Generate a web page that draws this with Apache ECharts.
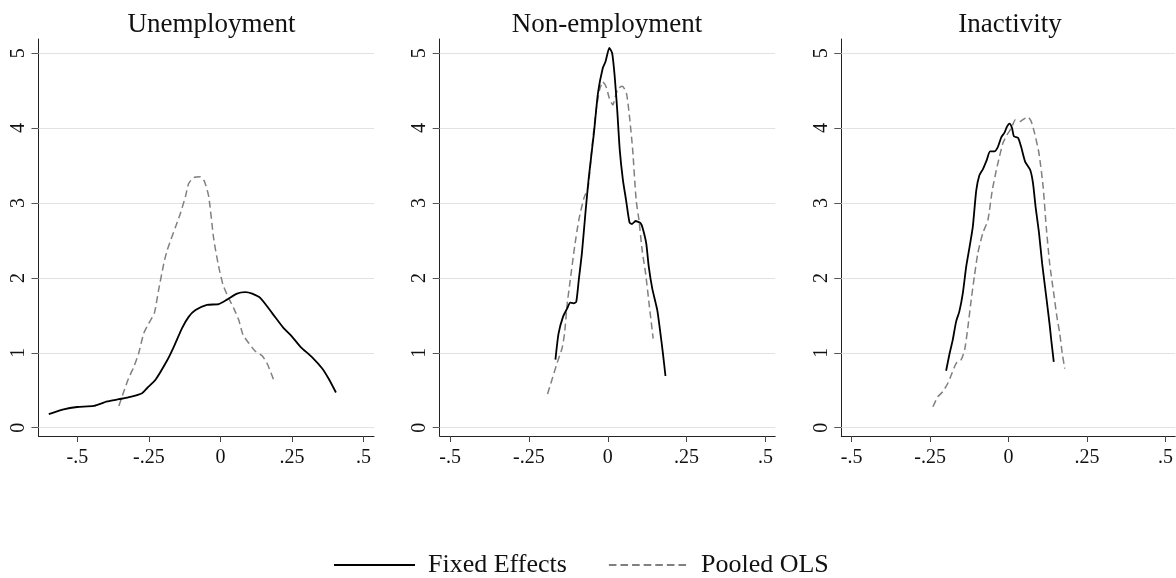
<!DOCTYPE html>
<html>
<head>
<meta charset="utf-8">
<script src="https://cdn.jsdelivr.net/npm/echarts@6/dist/echarts.min.js"></script>
<style>
html,body{margin:0;padding:0;background:#fff;}
#chart{width:1176px;height:578px;}
</style>
</head>
<body>
<div id="chart"></div>
<script>
// ---- Data ----
const panelTitles = ['Unemployment', 'Non-employment', 'Inactivity'];
const seriesNames = ['Fixed Effects', 'Pooled OLS'];
const xTicks = [-0.5, -0.25, 0, 0.25, 0.5];
const yTicks = [0, 1, 2, 3, 4, 5];

const unempFE = [[-0.600,0.18],[-0.548,0.245],[-0.501,0.276],[-0.443,0.29],[-0.396,0.35],[-0.355,0.38],[-0.315,0.41],[-0.274,0.46],[-0.256,0.53],[-0.227,0.64],[-0.186,0.90],[-0.163,1.08],[-0.134,1.33],[-0.111,1.48],[-0.087,1.57],[-0.047,1.64],[-0.006,1.65],[0.023,1.71],[0.058,1.79],[0.087,1.81],[0.111,1.79],[0.140,1.73],[0.181,1.53],[0.221,1.33],[0.245,1.24],[0.280,1.08],[0.321,0.94],[0.356,0.79],[0.379,0.65],[0.404,0.47]];
const unempOLS = [[-0.355,0.29],[-0.338,0.48],[-0.321,0.66],[-0.303,0.81],[-0.286,0.99],[-0.268,1.26],[-0.251,1.39],[-0.231,1.53],[-0.216,1.84],[-0.198,2.19],[-0.186,2.37],[-0.157,2.68],[-0.140,2.86],[-0.122,3.09],[-0.111,3.26],[-0.093,3.34],[-0.070,3.35],[-0.056,3.29],[-0.041,3.09],[-0.023,2.51],[-0.006,2.15],[0.009,1.91],[0.029,1.73],[0.047,1.59],[0.064,1.44],[0.079,1.24],[0.099,1.13],[0.122,1.02],[0.146,0.96],[0.163,0.86],[0.177,0.73],[0.189,0.61]];
const nonempFE = [[-0.166,0.91],[-0.156,1.26],[-0.142,1.48],[-0.129,1.59],[-0.119,1.67],[-0.108,1.66],[-0.100,1.68],[-0.092,1.97],[-0.082,2.33],[-0.071,2.86],[-0.060,3.35],[-0.044,3.93],[-0.031,4.47],[-0.016,4.80],[-0.007,4.89],[0.005,5.07],[0.014,5.00],[0.022,4.69],[0.030,4.24],[0.038,3.71],[0.048,3.31],[0.058,3.04],[0.069,2.74],[0.077,2.72],[0.088,2.76],[0.104,2.73],[0.111,2.66],[0.122,2.46],[0.130,2.15],[0.141,1.86],[0.157,1.57],[0.167,1.26],[0.175,0.99],[0.183,0.69]];
const nonempOLS = [[-0.191,0.45],[-0.177,0.64],[-0.161,0.86],[-0.145,1.06],[-0.137,1.26],[-0.129,1.64],[-0.119,1.97],[-0.105,2.42],[-0.092,2.77],[-0.076,3.06],[-0.062,3.22],[-0.050,3.75],[-0.037,4.24],[-0.026,4.51],[-0.016,4.62],[-0.005,4.55],[0.005,4.40],[0.016,4.31],[0.024,4.42],[0.033,4.53],[0.046,4.56],[0.059,4.47],[0.069,4.15],[0.079,3.71],[0.090,3.04],[0.099,2.77],[0.109,2.37],[0.120,2.06],[0.132,1.62],[0.144,1.19]];
const inactFE = [[-0.199,0.76],[-0.188,0.99],[-0.178,1.17],[-0.167,1.42],[-0.157,1.55],[-0.146,1.79],[-0.135,2.15],[-0.124,2.42],[-0.114,2.68],[-0.103,3.17],[-0.093,3.37],[-0.082,3.45],[-0.069,3.58],[-0.059,3.69],[-0.045,3.69],[-0.034,3.75],[-0.023,3.88],[-0.013,3.94],[-0.005,4.02],[0.003,4.06],[0.011,4.00],[0.017,3.89],[0.030,3.87],[0.040,3.75],[0.053,3.55],[0.069,3.44],[0.078,3.26],[0.086,2.95],[0.097,2.60],[0.107,2.19],[0.120,1.75],[0.131,1.37],[0.136,1.17],[0.144,0.88]];
const inactOLS = [[-0.241,0.28],[-0.226,0.41],[-0.210,0.48],[-0.194,0.59],[-0.183,0.70],[-0.167,0.86],[-0.151,0.91],[-0.140,1.04],[-0.130,1.33],[-0.119,1.71],[-0.109,2.02],[-0.098,2.33],[-0.082,2.60],[-0.066,2.77],[-0.052,3.17],[-0.039,3.44],[-0.029,3.62],[-0.018,3.80],[-0.005,3.91],[0.009,4.00],[0.021,4.11],[0.030,4.10],[0.037,4.09],[0.048,4.12],[0.062,4.15],[0.072,4.09],[0.083,3.93],[0.097,3.66],[0.110,3.22],[0.120,2.68],[0.131,2.19],[0.144,1.79],[0.154,1.48],[0.163,1.26],[0.171,0.99],[0.179,0.79]];

const feData = [unempFE, nonempFE, inactFE];
const olsData = [unempOLS, nonempOLS, inactOLS];
const xRanges = [[-0.636, 0.537], [-0.533, 0.531], [-0.533, 0.531]];
const yRange = [-0.111, 5.19];

// ---- Layout ----
const gridLefts = [38.5, 439.7, 841.3];
const titleCenters = [211.5, 607, 1010];
const gridWidth = 335.5;
const gridTop = 39;
const gridHeight = 397;
const FONT = '"Liberation Serif", "Times New Roman", serif';

// legend icons: a solid bar and a dashed bar (81 x 2)
const solidIcon = 'path://M0,0L81,0L81,2L0,2Z';
let dashPath = '';
for (let x = 0; x < 81; x += 11.6) {
  const w = Math.min(7.6, 81 - x);
  dashPath += 'M' + x.toFixed(1) + ',0L' + (x + w).toFixed(1) + ',0L' + (x + w).toFixed(1) + ',2L' + x.toFixed(1) + ',2Z';
}
const dashIcon = 'path://' + dashPath;

function fmtX(v) {
  if (v === 0) return '0';
  const s = String(Math.abs(v)).replace(/^0/, '');
  return (v < 0 ? '-' : '') + s;
}

const grids = [], xAxes = [], yAxes = [], series = [], titles = [];
for (let i = 0; i < 3; i++) {
  grids.push({ left: gridLefts[i], top: gridTop, width: gridWidth, height: gridHeight, containLabel: false });
  titles.push({
    text: panelTitles[i],
    left: titleCenters[i],
    top: 11,
    padding: 0,
    textAlign: 'center',
    textStyle: { fontFamily: FONT, fontSize: 27, fontWeight: 'normal', color: '#111' }
  });
  xAxes.push({
    type: 'value', gridIndex: i, min: xRanges[i][0], max: xRanges[i][1],
    axisLine: { show: true, onZero: false, lineStyle: { color: '#222', width: 1 } },
    axisTick: { show: true, customValues: xTicks, length: 6, lineStyle: { color: '#444' } },
    axisLabel: { customValues: xTicks, formatter: fmtX, margin: 12, fontFamily: FONT, fontSize: 20, color: '#111' },
    splitLine: { show: false }
  });
  yAxes.push({
    type: 'value', gridIndex: i, min: yRange[0], max: yRange[1],
    axisLine: { show: true, onZero: false, lineStyle: { color: '#222', width: 1 } },
    axisTick: { show: true, customValues: yTicks, length: 7, lineStyle: { color: '#555' } },
    axisLabel: { customValues: yTicks, rotate: 90, margin: 10, fontFamily: FONT, fontSize: 20, color: '#111' },
    splitLine: { show: false }
  });
  series.push({
    name: seriesNames[0], type: 'line', xAxisIndex: i, yAxisIndex: i,
    data: feData[i], showSymbol: false, symbol: 'none', smooth: 0.2,
    lineStyle: { color: '#000', width: 1.8 }, itemStyle: { color: '#000' },
    z: 3, silent: true, animation: false,
    markLine: {
      silent: true, symbol: 'none', z: 1, animation: false,
      label: { show: false },
      lineStyle: { color: '#e2e2e2', width: 1, type: 'solid' },
      emphasis: { disabled: true },
      data: yTicks.map(v => ({ yAxis: v }))
    }
  });
  series.push({
    name: seriesNames[1], type: 'line', xAxisIndex: i, yAxisIndex: i,
    data: olsData[i], showSymbol: false, symbol: 'none', smooth: 0.2,
    lineStyle: { color: '#808080', width: 1.5, type: [7, 4] }, itemStyle: { color: '#808080' },
    z: 2, silent: true, animation: false
  });
}

const chart = echarts.init(document.getElementById('chart'), null, { renderer: 'canvas' });
chart.setOption({
  animation: false,
  backgroundColor: '#fff',
  title: titles,
  grid: grids,
  xAxis: xAxes,
  yAxis: yAxes,
  legend: {
    show: true,
    orient: 'horizontal',
    data: [
      { name: seriesNames[0], icon: solidIcon },
      { name: seriesNames[1], icon: dashIcon }
    ],
    left: 334,
    bottom: 0,
    padding: 0,
    itemWidth: 81,
    itemHeight: 2,
    itemGap: 42,
    textStyle: { fontFamily: FONT, fontSize: 26, color: '#111', padding: [0, 0, 0, 8] },
    selectedMode: false
  },
  series: series
});
</script>
</body>
</html>
